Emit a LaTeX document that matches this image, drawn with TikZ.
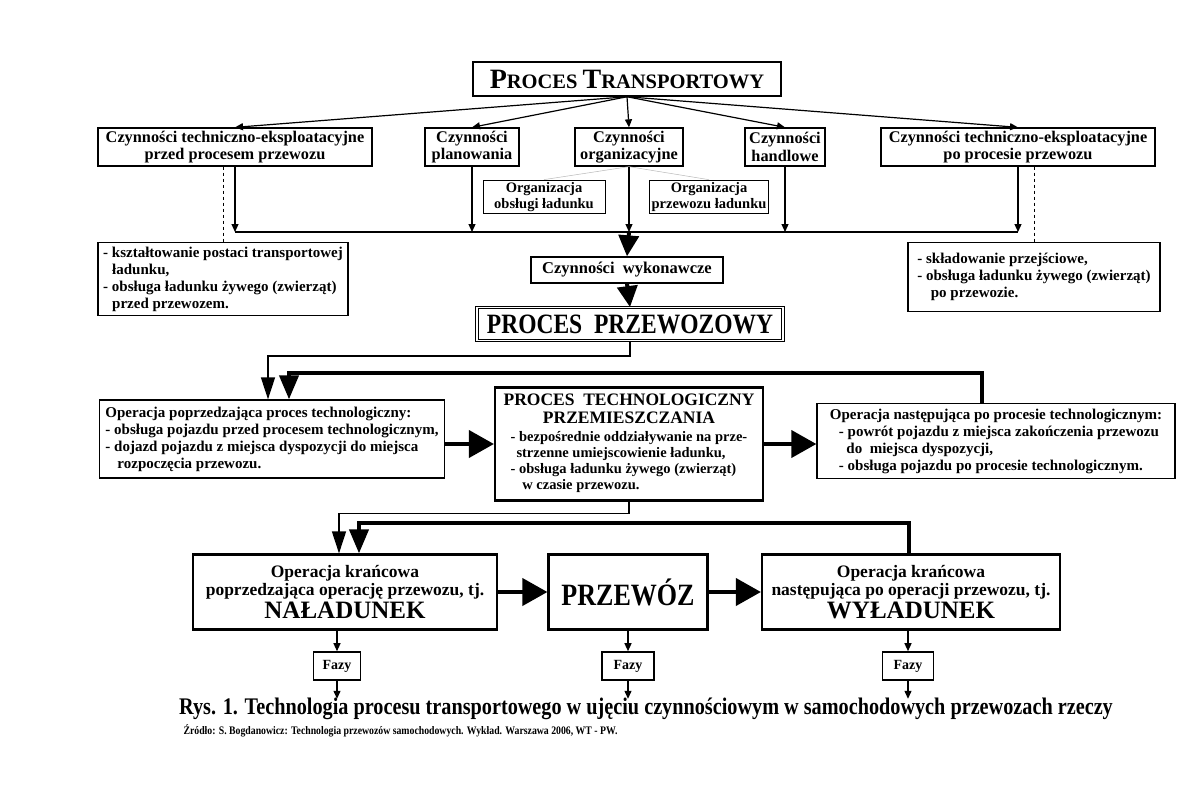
\documentclass[tikz,border=0pt]{standalone}
\usepackage{graphicx}
\usepackage{fontspec}
\setmainfont{Liberation Serif}
\newfontfamily\condfont[FakeStretch=0.85]{Liberation Serif}
\usetikzlibrary{arrows.meta}

% small caps made by hand (big first letter)
\newcommand{\bigsc}[2]{{\fontsize{28}{28}\selectfont #1}{\fontsize{20.5}{20.5}\selectfont #2}}

\begin{document}
\begin{tikzpicture}[x=1pt,y=-1pt,
 box/.style={draw,line width=1.3pt,fill=white,inner sep=2pt,align=center,
             font=\bfseries\fontsize{15.5}{17}\selectfont},
 lvl/.style={box,minimum height=38pt,font=\bfseries\fontsize{16.3}{17.5}\selectfont},
 sub/.style={box,line width=1pt,minimum height=32pt,
             font=\bfseries\fontsize{14.5}{16.5}\selectfont},
 listbox/.style={box,align=left,inner xsep=4pt,inner ysep=3pt,
                 font=\bfseries\fontsize{15}{17}\selectfont},
 heavy/.style={box,line width=2.2pt,minimum height=75pt,
               font=\bfseries\fontsize{17.5}{18.5}\selectfont},
 fazy/.style={box,line width=1.6pt,minimum height=28pt,
              font=\bfseries\fontsize{14}{16}\selectfont},
 arr/.style={line width=1.2pt,-{Triangle[length=8pt,width=7pt]}},
 wide/.style={line width=1.3pt,-{Triangle[length=22pt,width=14pt]}},
 thickarr/.style={line width=4pt,-{Triangle[length=24pt,width=19pt]}},
 bigdown/.style={line width=4pt,-{Triangle[length=21pt,width=20pt]}},
 side/.style={line width=4pt,-{Triangle[length=25pt,width=27pt]}}]
 \useasboundingbox[fill=white] (0,0) rectangle (1196,792);

 % top level
 \node[box,line width=1.5pt,minimum width=308pt,minimum height=34pt,font=\bfseries]
   (tp) at (627,79) {\bigsc{P}{ROCES}\ \ \bigsc{T}{RANSPORTOWY}};
 \node[lvl,minimum width=274pt] (ctl) at (235,147) {Czynności techniczno-eksploatacyjne\\przed procesem przewozu};
 \node[lvl,minimum width=94pt] (cpl) at (472,147) {Czynności\\planowania};
 \node[lvl,minimum width=108pt] (corg) at (629,147) {Czynności\\organizacyjne};
 \node[lvl,minimum width=80pt] (chan) at (785,147) {Czynności\\handlowe};
 \node[lvl,minimum width=274pt] (ctr) at (1018,147) {Czynności techniczno-eksploatacyjne\\po procesie przewozu};
 \node[sub,minimum width=122pt] (oobs) at (544,197) {Organizacja\\obsługi ładunku};
 \node[sub,minimum width=118pt] (oprz) at (709,197) {Organizacja\\przewozu ładunku};
 \coordinate (hl) at (0,232);

 \foreach \n in {ctl,cpl,corg,chan,ctr} \draw[arr] (tp.south) -- (\n.north);
 \draw[gray!55,line width=.5pt] (corg.south) -- (oobs.north);
 \draw[gray!55,line width=.5pt] (corg.south) -- (oprz.north);
 \foreach \n in {ctl,cpl,corg,chan,ctr} \draw[arr] (\n.south) -- (\n.south |- hl);
 \draw[line width=1.2pt] (ctl.south |- hl) -- (ctr.south |- hl);

 \node[listbox,minimum width=250pt,minimum height=73pt] (lleft) at (223,279)
   {- kształtowanie postaci transportowej\\\hspace*{.6em}ładunku,\\- obsługa ładunku żywego (zwierząt)\\\hspace*{.6em}przed przewozem.};
 \node[listbox,minimum width=252pt,minimum height=69pt] (lright) at (1034,277)
   {- składowanie przejściowe,\\- obsługa ładunku żywego (zwierząt)\\\hspace*{.9em}po przewozie.};
 \draw[line width=1pt,dash pattern=on 3pt off 3pt] (lleft.north |- ctl.south) -- (lleft.north);
 \draw[line width=1pt,dash pattern=on 3pt off 3pt] (lright.north |- ctr.south) -- (lright.north);

 \node[box,minimum width=192pt,minimum height=26pt,font=\bfseries\fontsize{16.5}{18}\selectfont]
   (wyk) at (627,270) {Czynności\ \ wykonawcze};
 \node[box,double,line width=.9pt,double distance=1.4pt,minimum width=306pt,minimum height=33pt,
       font=\bfseries\fontsize{28}{28}\selectfont] (przew) at (630,324) {\scalebox{.84}[1]{PROCES\ \ PRZEWOZOWY}};
 \draw[bigdown] (corg.south |- hl) -- (wyk.north);
 \draw[bigdown] (wyk.south) -- (przew.north);

 % technological process
 \node[listbox,minimum width=345pt,minimum height=78pt] (oppo) at (272,439)
   {Operacja poprzedzająca proces technologiczny:\\- obsługa pojazdu przed procesem technologicznym,\\- dojazd pojazdu z miejsca dyspozycji do miejsca\\\hspace*{.8em}rozpoczęcia przewozu.};
 \node[box,line width=2.2pt,minimum width=268pt,minimum height=113pt,inner sep=3pt,
       font=\bfseries\fontsize{17.5}{18}\selectfont] (tech) at (629,444)
   {PROCES\ \ TECHNOLOGICZNY\\PRZEMIESZCZANIA\\
    {\fontsize{14.5}{16}\selectfont\begin{tabular}[t]{@{}l@{}}- bezpośrednie oddziaływanie na prze-\\\hspace*{.4em}strzenne umiejscowienie ładunku,\\- obsługa ładunku żywego (zwierząt)\\\hspace*{.8em}w czasie przewozu.\end{tabular}}};
 \node[listbox,minimum width=358pt,minimum height=75pt] (opnast) at (996,441)
   {Operacja następująca po procesie technologicznym:\\\hspace*{.6em}- powrót pojazdu z miejsca zakończenia przewozu\\\hspace*{1.1em}do\ \ miejsca dyspozycji,\\\hspace*{.6em}- obsługa pojazdu po procesie technologicznym.};
 \draw[wide] (przew.south) -- ++(0,15) -| ([xshift=-4pt]oppo.north);
 \draw[thickarr] ([xshift=-14pt]opnast.north) -- ++(0,-30) -| ([xshift=17pt]oppo.north);
 \draw[side] (oppo.east |- tech.west) -- (tech.west);
 \draw[side] (tech.east) -- (opnast.west |- tech.east);

 % terminal operations
 \node[heavy,minimum width=304pt] (nal) at (345,592)
   {Operacja krańcowa\\poprzedzająca operację przewozu, tj.\\[2pt]{\fontsize{25}{25}\selectfont NAŁADUNEK}};
 \node[heavy,minimum width=159pt,font=\bfseries\fontsize{31}{31}\selectfont] (przewoz) at (628,592) {\scalebox{.84}[1]{PRZEWÓZ}};
 \node[heavy,minimum width=298pt] (wyl) at (911,592)
   {Operacja krańcowa\\następująca po operacji przewozu, tj.\\[2pt]{\fontsize{25}{25}\selectfont WYŁADUNEK}};
 \draw[wide] (tech.south) -- ++(0,12) -| ([xshift=-6pt]nal.north);
 \draw[thickarr] ([xshift=-2pt]wyl.north) -- ++(0,-30) -| ([xshift=14pt]nal.north);
 \draw[side] (nal.east) -- (przewoz.west);
 \draw[side] (przewoz.east) -- (wyl.west);

 \node[fazy,minimum width=47pt] (fz1) at (337,666) {Fazy};
 \node[fazy,minimum width=52pt] (fz2) at (628,666) {Fazy};
 \node[fazy,minimum width=51pt] (fz3) at (908,666) {Fazy};
 \draw[arr] (fz1.north |- nal.south) -- (fz1.north);
 \draw[arr] (fz2.north |- przewoz.south) -- (fz2.north);
 \draw[arr] (fz3.north |- wyl.south) -- (fz3.north);
 \foreach \n in {fz1,fz2,fz3} \draw[arr] (\n.south) -- ++(0,18);

 \node[font=\condfont\bfseries\fontsize{23.8}{24}\selectfont] (cap) at (646,709)
   {Rys. 1. Technologia procesu transportowego w ujęciu czynnościowym w samochodowych przewozach rzeczy};
 \node[anchor=west,font=\condfont\bfseries\fontsize{11.5}{12}\selectfont] (src) at (180,731)
   {Źródło: S. Bogdanowicz: Technologia przewozów samochodowych. Wykład. Warszawa 2006, WT - PW.};
\end{tikzpicture}
\end{document}
